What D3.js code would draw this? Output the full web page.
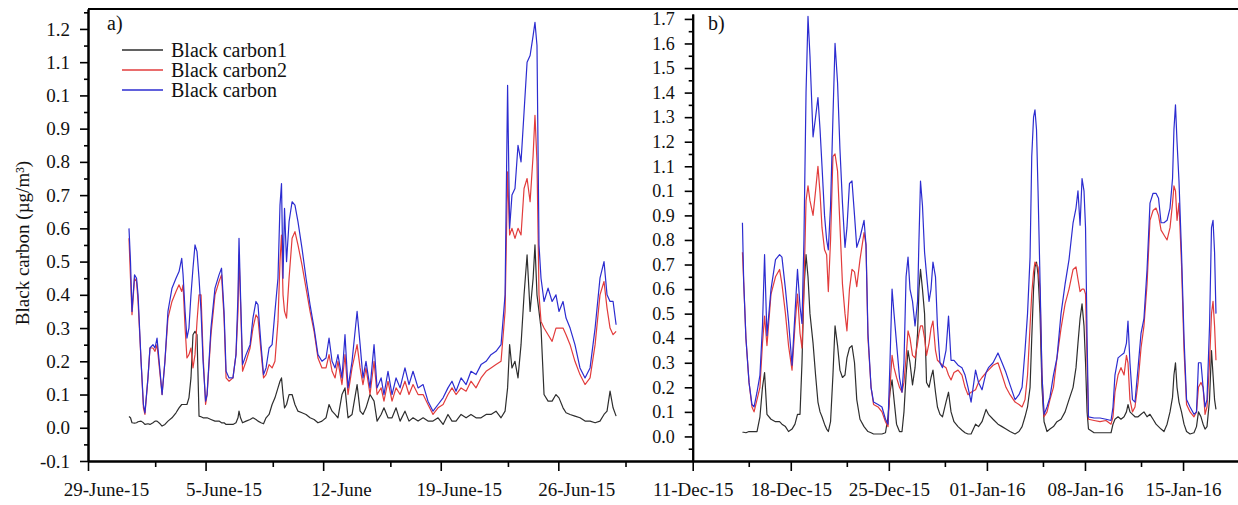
<!DOCTYPE html>
<html><head><meta charset="utf-8">
<script src="https://cdn.jsdelivr.net/npm/d3@7"></script>
<style>
body{margin:0;background:#fff}
svg text{font-family:"Liberation Serif","Times New Roman",serif;fill:#111}
</style>
</head><body>
<svg id="chart" width="1238" height="505"></svg>
<script>
// ---------- data ----------
const seriesNames = ["Black carbon1", "Black carbon2", "Black carbon"];
const seriesColors = ["#2e2e2e", "#e23c3c", "#2c2cd0"];

// panel a) : days since 29 May 2015
const startA = Date.UTC(2015, 4, 29);
const dayA = [2.44,2.53,2.62,2.77,2.89,2.98,3.16,3.30,3.39,3.57,3.69,3.87,3.99,4.11,4.29,4.41,4.58,4.76,5.00,5.24,5.42,5.58,5.66,5.78,5.89,6.01,6.13,6.25,6.37,6.49,6.61,6.73,6.85,7.00,7.09,7.32,7.56,7.80,7.95,8.10,8.22,8.40,8.63,8.81,8.93,8.99,9.08,9.20,9.41,9.65,9.82,10.00,10.12,10.30,10.45,10.60,10.78,10.96,11.13,11.31,11.43,11.52,11.61,11.70,11.82,11.97,12.15,12.32,12.50,12.74,12.98,13.22,13.46,13.69,13.93,14.17,14.35,14.53,14.71,14.88,15.12,15.30,15.48,15.72,16.02,16.20,16.37,16.55,16.79,17.03,17.21,17.45,17.62,17.86,18.10,18.34,18.58,18.87,19.11,19.35,19.65,19.95,20.24,20.54,20.84,21.14,21.43,21.67,21.91,22.21,22.51,22.80,23.10,23.40,23.70,23.99,24.29,24.59,24.83,24.98,25.10,25.24,25.42,25.60,25.78,25.96,26.14,26.32,26.50,26.61,26.73,26.85,26.97,27.15,27.39,27.63,27.86,28.04,28.28,28.46,28.70,28.99,29.29,29.59,29.89,30.19,30.48,30.72,30.90,31.08,31.26,31.44];
const bc1A = [0.034,0.03,0.015,0.014,0.015,0.018,0.02,0.015,0.01,0.012,0.01,0.015,0.02,0.02,0.012,0.005,0.01,0.02,0.03,0.045,0.06,0.07,0.07,0.07,0.07,0.09,0.15,0.28,0.29,0.28,0.035,0.033,0.03,0.03,0.03,0.025,0.02,0.02,0.015,0.015,0.01,0.01,0.01,0.015,0.03,0.05,0.03,0.015,0.02,0.025,0.03,0.025,0.02,0.015,0.012,0.03,0.04,0.07,0.09,0.12,0.14,0.15,0.10,0.06,0.07,0.10,0.10,0.07,0.05,0.045,0.04,0.03,0.025,0.015,0.02,0.03,0.07,0.05,0.04,0.03,0.10,0.12,0.03,0.04,0.13,0.05,0.04,0.06,0.10,0.08,0.02,0.04,0.06,0.03,0.03,0.06,0.02,0.05,0.02,0.03,0.02,0.03,0.02,0.02,0.03,0.01,0.04,0.02,0.02,0.04,0.03,0.04,0.03,0.03,0.04,0.04,0.05,0.03,0.05,0.12,0.25,0.18,0.20,0.15,0.25,0.40,0.52,0.35,0.45,0.55,0.40,0.35,0.30,0.10,0.08,0.08,0.10,0.09,0.06,0.045,0.04,0.035,0.03,0.02,0.02,0.015,0.02,0.04,0.05,0.11,0.06,0.035];
const bc2A = [0.57,0.45,0.34,0.45,0.44,0.38,0.20,0.06,0.04,0.15,0.24,0.24,0.23,0.25,0.16,0.10,0.20,0.33,0.38,0.41,0.43,0.41,0.43,0.30,0.21,0.22,0.24,0.18,0.22,0.32,0.40,0.40,0.22,0.07,0.10,0.28,0.40,0.44,0.46,0.33,0.15,0.14,0.15,0.22,0.35,0.52,0.38,0.17,0.20,0.24,0.30,0.34,0.33,0.23,0.15,0.16,0.19,0.18,0.20,0.32,0.50,0.58,0.40,0.35,0.33,0.45,0.57,0.59,0.55,0.49,0.42,0.35,0.29,0.21,0.18,0.18,0.22,0.17,0.15,0.20,0.13,0.22,0.10,0.18,0.25,0.18,0.13,0.18,0.10,0.20,0.10,0.12,0.08,0.14,0.08,0.12,0.10,0.14,0.10,0.13,0.10,0.10,0.07,0.04,0.06,0.07,0.10,0.12,0.10,0.12,0.11,0.14,0.12,0.15,0.17,0.18,0.19,0.20,0.35,0.77,0.58,0.60,0.57,0.60,0.58,0.72,0.75,0.68,0.82,0.94,0.80,0.40,0.32,0.30,0.28,0.26,0.30,0.30,0.30,0.28,0.25,0.20,0.16,0.13,0.15,0.25,0.40,0.44,0.36,0.30,0.28,0.29];
const bcA  = [0.60,0.50,0.35,0.46,0.45,0.40,0.20,0.07,0.045,0.15,0.24,0.25,0.24,0.27,0.17,0.10,0.20,0.35,0.42,0.45,0.47,0.51,0.46,0.35,0.27,0.30,0.40,0.48,0.55,0.53,0.45,0.35,0.20,0.08,0.10,0.30,0.42,0.46,0.48,0.35,0.17,0.15,0.15,0.22,0.40,0.57,0.40,0.19,0.22,0.25,0.33,0.38,0.37,0.25,0.16,0.18,0.24,0.25,0.35,0.45,0.67,0.735,0.45,0.66,0.50,0.62,0.68,0.67,0.62,0.54,0.45,0.37,0.30,0.22,0.20,0.21,0.27,0.20,0.18,0.22,0.15,0.28,0.12,0.20,0.35,0.25,0.15,0.20,0.12,0.25,0.12,0.15,0.10,0.17,0.10,0.15,0.12,0.18,0.13,0.17,0.12,0.13,0.08,0.05,0.07,0.09,0.12,0.14,0.11,0.15,0.13,0.17,0.16,0.19,0.20,0.22,0.23,0.25,0.40,1.03,0.60,0.70,0.72,0.85,0.80,0.95,1.10,1.12,1.18,1.22,1.15,0.55,0.45,0.38,0.42,0.38,0.40,0.35,0.38,0.33,0.30,0.25,0.18,0.15,0.18,0.30,0.45,0.50,0.40,0.38,0.38,0.31];

// panel b) : days since 11 Dec 2015
const startB = Date.UTC(2015, 11, 11);
const dayB = [3.55,3.64,3.80,4.02,4.23,4.38,4.59,4.80,4.98,5.13,5.30,5.59,5.91,6.20,6.37,6.62,6.84,7.09,7.30,7.48,7.66,7.80,7.94,8.09,8.23,8.37,8.59,8.77,8.94,9.09,9.23,9.41,9.56,9.68,9.84,10.01,10.16,10.34,10.51,10.69,10.87,11.01,11.19,11.37,11.55,11.71,11.94,12.23,12.37,12.51,12.73,12.91,13.23,13.51,13.76,13.94,14.08,14.23,14.37,14.55,14.76,14.94,15.08,15.23,15.37,15.51,15.69,15.87,16.05,16.15,16.26,16.40,16.55,16.69,16.87,17.01,17.15,17.33,17.47,17.65,17.83,18.08,18.26,18.44,18.65,18.94,19.22,19.44,19.65,19.87,20.19,20.40,20.65,20.94,21.11,21.44,21.79,22.08,22.36,22.65,23.01,23.29,23.51,23.72,23.90,24.08,24.20,24.33,24.43,24.54,24.65,24.79,24.93,25.08,25.29,25.50,25.75,26.00,26.29,26.58,26.86,27.15,27.36,27.50,27.65,27.79,27.93,28.04,28.15,28.25,28.65,29.07,29.50,29.86,30.00,30.14,30.36,30.57,30.79,30.96,31.07,31.21,31.39,31.57,31.79,32.00,32.21,32.43,32.64,32.86,33.07,33.25,33.43,33.64,33.86,34.07,34.25,34.35,34.46,34.57,34.71,34.89,35.07,35.25,35.50,35.78,35.96,36.10,36.28,36.43,36.57,36.71,36.89,37.03,37.14,37.25,37.35];
const bc1B = [0.017,0.017,0.015,0.02,0.02,0.02,0.02,0.08,0.2,0.26,0.09,0.07,0.06,0.06,0.05,0.04,0.02,0.03,0.05,0.09,0.09,0.3,0.6,0.74,0.65,0.5,0.38,0.25,0.14,0.1,0.08,0.05,0.03,0.02,0.06,0.25,0.45,0.37,0.27,0.24,0.25,0.32,0.36,0.37,0.3,0.15,0.07,0.04,0.03,0.02,0.015,0.01,0.01,0.01,0.015,0.08,0.18,0.23,0.15,0.05,0.02,0.02,0.1,0.25,0.35,0.3,0.21,0.28,0.42,0.6,0.68,0.6,0.5,0.22,0.2,0.24,0.27,0.18,0.12,0.09,0.08,0.14,0.18,0.1,0.06,0.04,0.025,0.015,0.01,0.01,0.05,0.04,0.06,0.11,0.09,0.07,0.05,0.04,0.03,0.02,0.01,0.02,0.04,0.08,0.12,0.2,0.4,0.6,0.69,0.71,0.66,0.5,0.2,0.06,0.02,0.03,0.04,0.06,0.07,0.1,0.15,0.2,0.28,0.38,0.48,0.54,0.45,0.3,0.1,0.03,0.015,0.015,0.015,0.015,0.05,0.07,0.08,0.07,0.08,0.1,0.13,0.1,0.09,0.08,0.08,0.09,0.1,0.08,0.09,0.07,0.05,0.04,0.03,0.02,0.05,0.1,0.16,0.25,0.3,0.2,0.14,0.1,0.05,0.02,0.01,0.015,0.04,0.1,0.08,0.05,0.03,0.04,0.15,0.35,0.25,0.15,0.11];
const bc2B = [0.75,0.63,0.40,0.22,0.12,0.10,0.15,0.20,0.38,0.49,0.37,0.58,0.65,0.68,0.62,0.50,0.37,0.27,0.45,0.58,0.42,0.36,0.60,0.96,1.02,0.96,0.90,1.00,1.10,0.99,0.85,0.76,0.74,0.59,0.80,1.14,1.15,1.08,0.86,0.62,0.50,0.43,0.60,0.68,0.67,0.61,0.72,0.83,0.78,0.40,0.20,0.13,0.12,0.10,0.06,0.04,0.20,0.33,0.28,0.24,0.20,0.18,0.22,0.32,0.43,0.40,0.33,0.32,0.38,0.42,0.45,0.45,0.40,0.33,0.38,0.44,0.47,0.35,0.31,0.30,0.29,0.28,0.25,0.23,0.26,0.27,0.25,0.20,0.17,0.18,0.19,0.22,0.24,0.26,0.27,0.29,0.30,0.25,0.20,0.17,0.14,0.13,0.12,0.15,0.25,0.45,0.58,0.67,0.71,0.70,0.69,0.60,0.25,0.08,0.10,0.15,0.20,0.32,0.44,0.54,0.60,0.68,0.69,0.64,0.59,0.60,0.60,0.58,0.30,0.07,0.065,0.06,0.065,0.05,0.08,0.18,0.25,0.28,0.25,0.33,0.30,0.15,0.10,0.12,0.22,0.36,0.45,0.62,0.88,0.92,0.93,0.90,0.84,0.82,0.80,0.85,0.95,1.02,1.00,0.88,0.95,0.70,0.35,0.13,0.10,0.08,0.10,0.20,0.22,0.20,0.09,0.12,0.30,0.50,0.55,0.45,0.31];
const bcB  = [0.87,0.63,0.40,0.22,0.13,0.12,0.18,0.25,0.45,0.74,0.41,0.60,0.72,0.74,0.73,0.60,0.47,0.29,0.50,0.68,0.53,0.46,0.80,1.40,1.71,1.55,1.22,1.30,1.38,1.25,1.10,0.90,0.80,0.76,0.94,1.30,1.60,1.44,1.17,0.95,0.77,0.85,1.03,1.04,0.90,0.77,0.81,0.88,0.78,0.42,0.20,0.14,0.13,0.12,0.07,0.05,0.30,0.60,0.50,0.38,0.24,0.18,0.30,0.65,0.73,0.60,0.55,0.45,0.55,0.80,1.04,0.94,0.75,0.66,0.55,0.60,0.71,0.65,0.45,0.30,0.28,0.35,0.49,0.31,0.31,0.29,0.28,0.25,0.20,0.14,0.27,0.22,0.19,0.26,0.28,0.30,0.34,0.30,0.26,0.21,0.15,0.17,0.20,0.35,0.50,0.73,1.14,1.30,1.33,1.25,1.00,0.64,0.25,0.09,0.12,0.16,0.25,0.32,0.50,0.62,0.72,0.87,0.93,1.00,0.86,1.05,1.00,0.85,0.40,0.08,0.075,0.075,0.07,0.065,0.12,0.25,0.32,0.33,0.34,0.38,0.47,0.30,0.15,0.14,0.28,0.42,0.48,0.68,0.95,0.99,0.99,0.97,0.87,0.87,0.88,0.93,1.05,1.25,1.35,1.20,1.04,0.75,0.40,0.15,0.12,0.09,0.10,0.30,0.30,0.20,0.12,0.15,0.45,0.85,0.88,0.75,0.50];

// axis ticks and labels
const xMajorA = [0, 7, 14, 21, 28];
const xMinorA = [4, 11, 18, 25, 32];
const xLabelsA = ["29-June-15", "5-June-15", "12-June", "19-June-15", "26-Jun-15"];
const xMajorB = [0, 7, 14, 21, 28, 35];
const xMinorB = [4, 11, 18, 25, 32, 39];
const xLabelsB = ["11-Dec-15", "18-Dec-15", "25-Dec-15", "01-Jan-16", "08-Jan-16", "15-Jan-16"];
const yTicksA = [-0.1,0,0.1,0.2,0.3,0.4,0.5,0.6,0.7,0.8,0.9,1.0,1.1,1.2];
const yLabelsA = ["-0.1","0.0","0.1","0.2","0.3","0.4","0.5","0.6","0.7","0.8","0.9","0.1","1.1","1.2"];
const yTicksB = [0,0.1,0.2,0.3,0.4,0.5,0.6,0.7,0.8,0.9,1.0,1.1,1.2,1.3,1.4,1.5,1.6,1.7];
const yLabelsB = ["0.0","0.1","0.2","0.3","0.4","0.5","0.6","0.7","0.8","0.9","0.1","1.1","1.2","1.3","1.4","1.5","1.6","1.7"];
const yTitle = "Black carbon (\u00b5g/m\u00b3)";

// ---------- drawing ----------
const DAY = 864e5;
const svg = d3.select("#chart");
svg.append("rect").attr("width", 1238).attr("height", 505).attr("fill", "#fff");

const axisX0 = 88, divX = 692.7, axisY = 461;
const toDate = (s, d) => new Date(s + d * DAY);

const xA = d3.scaleUtc().domain([toDate(startA, 0), toDate(startA, 36)]).range([axisX0, divX]);
const xB = d3.scaleUtc().domain([toDate(startB, 0), toDate(startB, 39)]).range([divX, divX + 39 * 14.01]);
const yA = d3.scaleLinear().domain([-0.1, 1.26]).range([axisY, 9]);
const yB = d3.scaleLinear().domain([-0.1, 1.72]).range([axisY, 14]);

function styleAxis(g, fs) {
  g.attr("font-family", null).attr("font-size", fs);
  g.selectAll("path.domain").attr("stroke", "#000").attr("stroke-width", 2);
  g.selectAll(".tick line").attr("stroke", "#000").attr("stroke-width", 1.6);
  g.selectAll("text").attr("fill", "#111");
}

// minor x ticks
svg.append("g").attr("transform", `translate(0,${axisY})`)
  .call(d3.axisBottom(xA).tickValues(xMinorA.map(d => toDate(startA, d))).tickSize(6).tickSizeOuter(0).tickFormat(""))
  .call(g => styleAxis(g, 19));
svg.append("g").attr("transform", `translate(0,${axisY})`)
  .call(d3.axisBottom(xB).tickValues(xMinorB.map(d => toDate(startB, d))).tickSize(6).tickSizeOuter(0).tickFormat(""))
  .call(g => styleAxis(g, 19));
// major x ticks
svg.append("g").attr("transform", `translate(0,${axisY})`)
  .call(d3.axisBottom(xA).tickValues(xMajorA.map(d => toDate(startA, d))).tickSize(10).tickSizeOuter(0).tickPadding(12)
    .tickFormat((d, i) => xLabelsA[i]))
  .call(g => styleAxis(g, 19))
  .call(g => g.selectAll("text").attr("dx", 18));
svg.append("g").attr("transform", `translate(0,${axisY})`)
  .call(d3.axisBottom(xB).tickValues(xMajorB.map(d => toDate(startB, d))).tickSize(10).tickSizeOuter(0).tickPadding(12)
    .tickFormat((d, i) => xLabelsB[i]))
  .call(g => styleAxis(g, 19));

// y axes: minor then major
const minorA = d3.range(-0.05, 1.26, 0.1);
svg.append("g").attr("transform", `translate(${axisX0},0)`)
  .call(d3.axisLeft(yA).tickValues(minorA).tickSize(4).tickSizeOuter(0).tickFormat(""))
  .call(g => styleAxis(g, 19));
svg.append("g").attr("transform", `translate(${axisX0},0)`)
  .call(d3.axisLeft(yA).tickValues(yTicksA).tickSize(8).tickSizeOuter(0).tickPadding(10)
    .tickFormat((d, i) => yLabelsA[i]))
  .call(g => styleAxis(g, 19));

const minorB = d3.range(-0.05, 1.72, 0.1);
svg.append("g").attr("transform", `translate(${divX},0)`)
  .call(d3.axisLeft(yB).tickValues(minorB).tickSize(4).tickSizeOuter(0).tickFormat(""))
  .call(g => styleAxis(g, 18));
svg.append("g").attr("transform", `translate(${divX},0)`)
  .call(d3.axisLeft(yB).tickValues(yTicksB).tickSize(8).tickSizeOuter(0).tickPadding(10)
    .tickFormat((d, i) => yLabelsB[i]))
  .call(g => styleAxis(g, 18));

// top frame line
svg.append("line").attr("x1", axisX0).attr("x2", 1238).attr("y1", 9).attr("y2", 9)
  .attr("stroke", "#000").attr("stroke-width", 2);

// lines
const lineA = d3.line().x(d => xA(d[0])).y(d => yA(d[1]));
const lineB = d3.line().x(d => xB(d[0])).y(d => yB(d[1]));
const seriesA = [bc1A, bc2A, bcA];
const seriesB = [bc1B, bc2B, bcB];
seriesA.forEach((vals, k) => {
  svg.append("path")
    .datum(vals.map((v, i) => [toDate(startA, dayA[i]), v]))
    .attr("fill", "none").attr("stroke", seriesColors[k]).attr("stroke-width", 1.2)
    .attr("stroke-linejoin", "round").attr("d", lineA);
});
seriesB.forEach((vals, k) => {
  svg.append("path")
    .datum(vals.map((v, i) => [toDate(startB, dayB[i]), v]))
    .attr("fill", "none").attr("stroke", seriesColors[k]).attr("stroke-width", 1.2)
    .attr("stroke-linejoin", "round").attr("d", lineB);
});

// legend
const leg = svg.append("g");
seriesNames.forEach((name, i) => {
  const y = 50 + i * 20;
  leg.append("line").attr("x1", 122).attr("x2", 163).attr("y1", y).attr("y2", y)
    .attr("stroke", seriesColors[i]).attr("stroke-width", 1.3);
  leg.append("text").attr("x", 171).attr("y", y).attr("dy", "0.35em")
    .attr("font-size", 20).text(name);
});

// panel labels
svg.append("text").attr("x", 107).attr("y", 30).attr("font-size", 20).text("a)");
svg.append("text").attr("x", 708).attr("y", 30).attr("font-size", 20).text("b)");

// y title
svg.append("text").attr("transform", "translate(22,243) rotate(-90)")
  .attr("text-anchor", "middle").attr("dy", "0.35em").attr("font-size", 19).text(yTitle);
</script>
</body></html>
